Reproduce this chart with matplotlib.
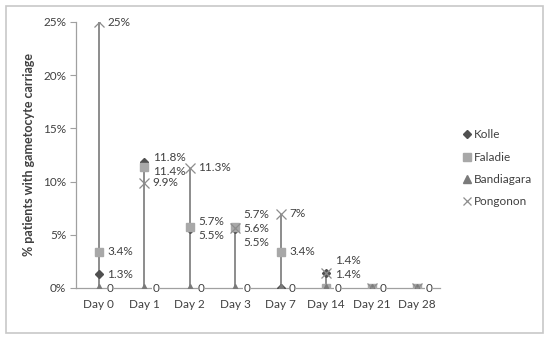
import numpy as np
import matplotlib
matplotlib.use("Agg")
from matplotlib import pyplot as plt
from matplotlib.patches import Rectangle

plt.rcParams['font.family'] = ['Lato', 'DejaVu Sans']

# data (percent)
days = ['Day 0', 'Day 1', 'Day 2', 'Day 3', 'Day 7', 'Day 14', 'Day 21', 'Day 28']
kolle = [1.3, 11.8, 5.5, 5.5, 0, 1.4, 0, 0]
faladie = [3.4, 11.4, 5.7, 5.7, 3.4, 0, 0, 0]
bandiagara = [0, 0, 0, 0, 0, 0, 0, 0]
pongonon = [25, 9.9, 11.3, 5.6, 7, 1.4, 0, 0]

names = ['Kolle', 'Faladie', 'Bandiagara', 'Pongonon']
series = [kolle, faladie, bandiagara, pongonon]

txt = '#404040'
fig = plt.figure(figsize=(5.5, 3.4), dpi=100)
ax = fig.add_axes([76/550, 1 - 288/340, 364/550, 266/340])

x = np.arange(len(days))
allv = np.array(series)
ax.vlines(x, allv.min(axis=0), allv.max(axis=0), color='#6e6e6e', lw=1.1, zorder=1)

styles = [
    dict(marker='D', color='#505050', ms=4.5, mec='#505050'),
    dict(marker='s', color='#a8a8a8', ms=6.2, mec='#a8a8a8'),
    dict(marker='^', color='#7a7a7a', ms=6.2, mec='#7a7a7a'),
    dict(marker='x', color='#8c8c8c', ms=7, mew=0.9),
]
for name, vals, st in zip(names, series, styles):
    ax.plot(x, vals, ls='none', label=name, zorder=3, **st)


def fmt(v):
    if float(v).is_integer():
        return '%d%%' % v
    return '%.1f%%' % v


# data labels: one "0" per day, close values spread around their mean
gap = 1.3
for i in x:
    vals = sorted(s[i] for s in series if s[i] != 0)
    groups = []
    for v in vals:
        if groups and v - groups[-1][-1] < gap:
            groups[-1].append(v)
        else:
            groups.append([v])
    for g in groups:
        n = len(g)
        ys = [np.mean(g) + (k - (n - 1) / 2) * gap for k in range(n)]
        if ys[0] < gap:
            ys = [y + gap - ys[0] for y in ys]
        for v, y in zip(g, ys):
            ax.annotate(fmt(v), (i, y), xytext=(6, 0), textcoords='offset points',
                        ha='left', va='center', fontsize=8.5, color=txt)
    ax.annotate('0', (i, 0), xytext=(6, 0), textcoords='offset points',
                ha='left', va='center', fontsize=8.5, color=txt,
                bbox=dict(fc='white', ec='none', pad=0.3))

ax.set_xlim(-0.5, len(days) - 0.5)
ax.set_ylim(0, 25)
ax.set_xticks(x)
ax.set_xticklabels(days)
ax.set_yticks([0, 5, 10, 15, 20, 25])
ax.set_yticklabels(['%d%%' % t for t in [0, 5, 10, 15, 20, 25]])
ax.tick_params(axis='x', length=0, pad=8, labelsize=8.5, colors=txt)
ax.tick_params(axis='y', length=4, width=0.8, color='#a0a0a0', pad=3,
               labelsize=8.5, labelcolor=txt)
for side in ['top', 'right']:
    ax.spines[side].set_visible(False)
for side in ['left', 'bottom']:
    ax.spines[side].set_color('#a0a0a0')
    ax.spines[side].set_linewidth(0.9)
ax.set_ylabel('% patients with gametocyte carriage', fontsize=9,
              fontweight='bold', color=txt, labelpad=6)

ax.legend(loc='center left', bbox_to_anchor=(450/550, 0.505),
          bbox_transform=fig.transFigure, frameon=False,
          fontsize=8.5, labelcolor=txt, handletextpad=0.1, labelspacing=0.95,
          handlelength=1.0, markerscale=0.9)

fig.patches.append(Rectangle((6/550, 1 - 333/340), 537/550, 327/340,
                             transform=fig.transFigure, fill=False,
                             ec='#c8c8c8', lw=1.2))

fig.savefig('out.png', dpi=100)
